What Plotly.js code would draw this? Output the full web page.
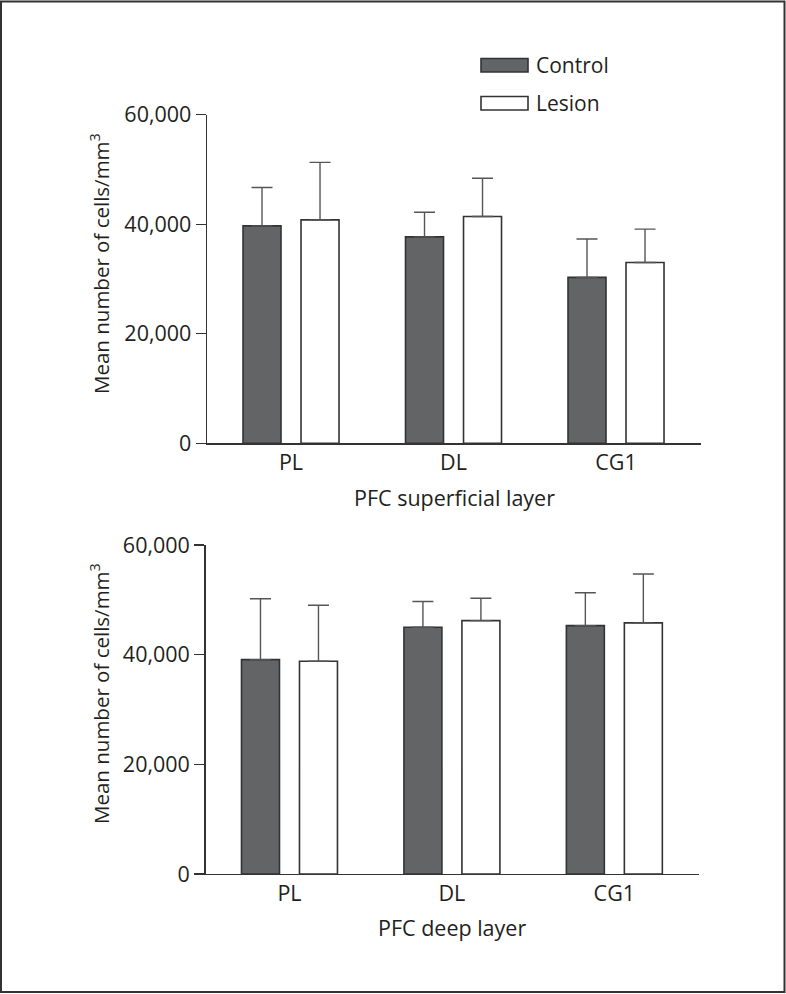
<!DOCTYPE html>
<html>
<head>
<meta charset="utf-8">
<script src="https://cdn.plot.ly/plotly-3.0.1.min.js"></script>
<style>
  html, body { margin: 0; padding: 0; background: #fff; }
  #chart { width: 786px; height: 994px; }
</style>
</head>
<body>
<div id="chart"></div>
<script>
// ---- data ----
const categories = ["PL", "DL", "CG1"];
const seriesNames = ["Control", "Lesion"];

// PFC superficial layer
const superficialControl = [39700, 37700, 30300];
const superficialControlErr = [7000, 4500, 7000];
const superficialLesion = [40800, 41400, 33000];
const superficialLesionErr = [10500, 7000, 6100];

// PFC deep layer
const deepControl = [39100, 45000, 45300];
const deepControlErr = [11100, 4700, 6000];
const deepLesion = [38800, 46200, 45800];
const deepLesionErr = [10200, 4100, 8900];

const yTickVals = [0, 20000, 40000, 60000];
const yTickText = ["0", "20,000", "40,000", "60,000"];
const yTitle = "Mean number of cells/mm<sup>3</sup>";
const xTitleTop = "PFC superficial layer";
const xTitleBottom = "PFC deep layer";

// ---- layout helpers ----
const W = 786, H = 994;
const px = v => v / W;
const py = v => 1 - v / H;
const FONT = "Open Sans, Liberation Sans, sans-serif";
const TXT = "#231f20";
const LINE = "#333333";
const DARK = "#636466";

function barTrace(name, y, err, fill, xa, ya) {
  return {
    type: "bar", name: name, x: categories, y: y,
    xaxis: xa, yaxis: ya,
    marker: { color: fill, line: { color: LINE, width: 1.6 } },
    error_y: { type: "data", array: err, arrayminus: err.map(() => 0), symmetric: false,
               color: "#555555", thickness: 1.4, width: 10.5 },
    showlegend: false, hoverinfo: "skip"
  };
}

const data = [
  barTrace(seriesNames[0], superficialControl, superficialControlErr, DARK, "x", "y"),
  barTrace(seriesNames[1], superficialLesion, superficialLesionErr, "#ffffff", "x", "y"),
  barTrace(seriesNames[0], deepControl, deepControlErr, DARK, "x2", "y2"),
  barTrace(seriesNames[1], deepLesion, deepLesionErr, "#ffffff", "x2", "y2")
];

const TICKSIZE = 21.5;
function xAxis(domain, anchor) {
  return {
    domain: domain, anchor: anchor, range: [-0.517, 2.523],
    showline: true, linecolor: LINE, linewidth: 1.3,
    ticks: "", showgrid: false, zeroline: false,
    tickfont: { family: FONT, size: TICKSIZE, color: TXT }, fixedrange: true
  };
}
function yAxis(domain, anchor) {
  return {
    domain: domain, anchor: anchor, range: [0, 60000],
    tickvals: yTickVals, ticktext: yTickText,
    showline: true, linecolor: LINE, linewidth: 1.3,
    ticks: "outside", ticklen: 10, tickwidth: 1.3, tickcolor: LINE,
    showgrid: false, zeroline: false,
    tickfont: { family: FONT, size: TICKSIZE, color: TXT }, fixedrange: true
  };
}

const legFont = { family: FONT, size: 21, color: TXT };
const yTitleFont = { family: FONT, size: 20.5, color: TXT };
const xTitleFont = { family: FONT, size: 21.5, color: TXT };
const layout = {
  width: W, height: H,
  margin: { l: 0, r: 0, t: 0, b: 0, pad: 0 },
  paper_bgcolor: "#ffffff", plot_bgcolor: "#ffffff",
  barmode: "group", bargap: 0.286, bargroupgap: 0.345,
  showlegend: false,
  xaxis: xAxis([px(207), px(701)], "y"),
  yaxis: yAxis([py(443.3), py(114.7)], "x"),
  xaxis2: xAxis([px(205.5), px(699.3)], "y2"),
  yaxis2: yAxis([py(874), py(545)], "x2"),
  shapes: [
    { type: "rect", xref: "paper", yref: "paper", x0: px(1), x1: px(784.5), y0: py(992), y1: py(1.5),
      line: { color: LINE, width: 2 }, fillcolor: "rgba(0,0,0,0)" },
    { type: "rect", xref: "paper", yref: "paper", x0: px(481), x1: px(528), y0: py(72), y1: py(58.5),
      line: { color: LINE, width: 1.6 }, fillcolor: DARK },
    { type: "rect", xref: "paper", yref: "paper", x0: px(481), x1: px(528), y0: py(110), y1: py(96.5),
      line: { color: LINE, width: 1.6 }, fillcolor: "#ffffff" }
  ],
  annotations: [
    { text: seriesNames[0], xref: "paper", yref: "paper", x: px(534), y: py(65), xanchor: "left", yanchor: "middle", showarrow: false, font: legFont },
    { text: seriesNames[1], xref: "paper", yref: "paper", x: px(534), y: py(103), xanchor: "left", yanchor: "middle", showarrow: false, font: legFont },
    { text: yTitle, xref: "paper", yref: "paper", x: px(100), y: py(264), textangle: -90, xanchor: "center", yanchor: "middle", showarrow: false, font: yTitleFont },
    { text: yTitle, xref: "paper", yref: "paper", x: px(100), y: py(694), textangle: -90, xanchor: "center", yanchor: "middle", showarrow: false, font: yTitleFont },
    { text: xTitleTop, xref: "paper", yref: "paper", x: px(454), y: py(497), xanchor: "center", yanchor: "middle", showarrow: false, font: xTitleFont },
    { text: xTitleBottom, xref: "paper", yref: "paper", x: px(452), y: py(927), xanchor: "center", yanchor: "middle", showarrow: false, font: xTitleFont }
  ]
};

Plotly.newPlot("chart", data, layout, { staticPlot: true, displayModeBar: false });
</script>
</body>
</html>
